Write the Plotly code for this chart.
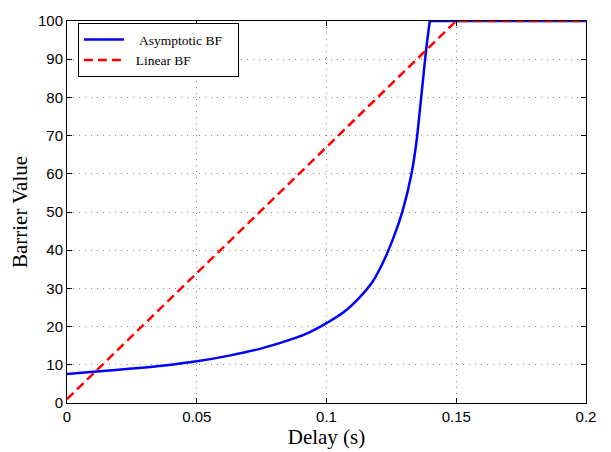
import plotly.graph_objects as go

# Asymptotic barrier function: rising part up to the saturation point
delay_asym = [0.0, 0.0125, 0.025, 0.0375, 0.05, 0.0625, 0.075, 0.0875,
              0.0934, 0.1, 0.1063, 0.1127, 0.1178, 0.1224, 0.1262, 0.1294,
              0.1326, 0.1346, 0.1358, 0.1371, 0.1384, 0.1398]
barrier_asym = [7.6, 8.3, 9.0, 9.8, 10.9, 12.4, 14.3, 16.9,
                18.5, 20.9, 23.6, 27.6, 31.8, 37.7, 44.0, 50.5,
                59.5, 68.0, 75.5, 84.0, 92.5, 100.0]
# Saturated part of the asymptotic barrier
delay_sat = [0.1398, 0.2]
barrier_sat = [100.0, 100.0]

# Linear barrier function
delay_lin = [0.0, 0.15, 0.2]
barrier_lin = [1.0, 100.0, 100.0]

x_ticks = [0, 0.05, 0.1, 0.15, 0.2]
x_labels = ["0", "0.05", "0.1", "0.15", "0.2"]
y_ticks = [0, 10, 20, 30, 40, 50, 60, 70, 80, 90, 100]

serif = "Liberation Serif, Times New Roman, serif"
sans = "Liberation Sans, Arial, sans-serif"
blue_line = dict(color="#0000ff", width=2.5)
pad = "\u00a0"

fig = go.Figure()
fig.add_trace(go.Scatter(x=delay_asym, y=barrier_asym, mode="lines",
                         name=pad * 3 + "Asymptotic BF" + pad * 3, legendgroup="asym",
                         line=dict(**blue_line, shape="spline", smoothing=0.9)))
fig.add_trace(go.Scatter(x=delay_sat, y=barrier_sat, mode="lines",
                         legendgroup="asym", showlegend=False, line=blue_line))
fig.add_trace(go.Scatter(x=delay_lin, y=barrier_lin, mode="lines",
                         name=pad * 2 + "Linear BF",
                         line=dict(color="#ff0000", width=2.5, dash="9px,5px")))

axis_common = dict(
    showline=True, linecolor="black", linewidth=1, mirror="ticks",
    ticks="inside", ticklen=5, tickcolor="black",
    showgrid=True, gridcolor="#8a8a8a", gridwidth=1, griddash="1px,5px",
    zeroline=False,
    tickfont=dict(family=sans, size=15, color="black"),
)

fig.update_xaxes(range=[0, 0.2], tickvals=x_ticks, ticktext=x_labels,
                 title=dict(text="Delay (s)", standoff=0,
                            font=dict(family=serif, size=21, color="black")),
                 **axis_common)
fig.update_yaxes(range=[0, 100], tickvals=y_ticks,
                 title=dict(text="Barrier Value", standoff=4,
                            font=dict(family=serif, size=21, color="black")),
                 **axis_common)

fig.update_layout(
    width=611, height=452,
    margin=dict(l=67, r=25, t=12, b=47),
    plot_bgcolor="white", paper_bgcolor="white",
    showlegend=True,
    legend=dict(x=0.021, y=0.994, xanchor="left", yanchor="top",
                bgcolor="white", bordercolor="black", borderwidth=1,
                font=dict(family=serif, size=13.5, color="black"),
                itemwidth=40, tracegroupgap=0),
)

fig.write_html("out.html")
